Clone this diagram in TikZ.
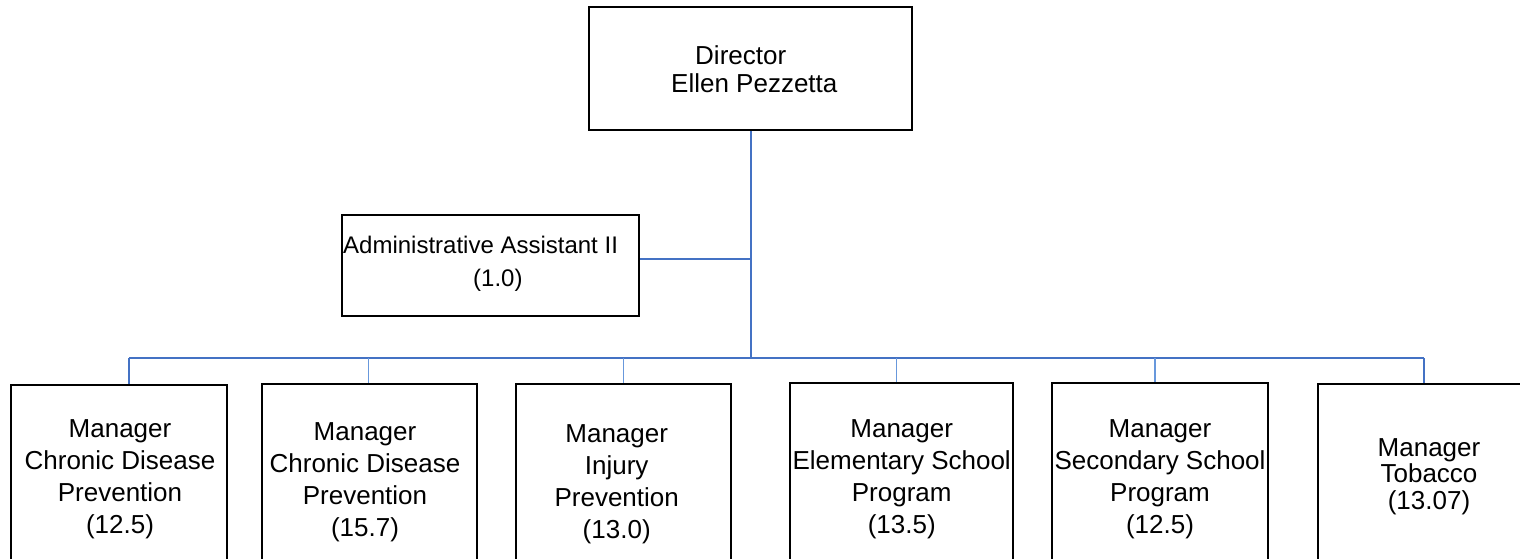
\documentclass[tikz,border=0pt]{standalone}
\usepackage{fontspec}
\setmainfont{Liberation Sans}
\definecolor{mainblue}{RGB}{68,114,196}
\definecolor{dropblue}{RGB}{104,152,220}
\tikzset{
  box/.style={draw=black, line width=1.8pt, rectangle, inner sep=0pt},
  lbl/.style={inner sep=0pt, anchor=north, align=center, font=\fontsize{26}{32}\selectfont},
  trunk/.style={draw=mainblue, line width=2pt},
  drop/.style={draw=dropblue, line width=1.5pt},
}
\newcommand{\st}{\rule{0pt}{20pt}}
\begin{document}
\begin{tikzpicture}[x=1pt,y=-1pt]
\useasboundingbox (0,0) rectangle (1520,559);
\clip (0,0) rectangle (1520,559);
\fill[white] (0,0) rectangle (1520,559);
% director
\node[box, minimum width=323pt, minimum height=123pt] (dir) at (750.5,68.5) {};
\node[inner sep=0pt, anchor=north west, align=left, font=\fontsize{26}{28.7}\selectfont] (dirt) at (671,44) {\st\hspace*{24pt}Director\\Ellen Pezzetta};
% admin
\node[box, minimum width=297.6pt, minimum height=100.7pt] (adm) at (490.5,265.3) {};
\node[inner sep=0pt, anchor=north west, align=left, font=\fontsize{24}{33}\selectfont] (admt) at (343,235) {\rule{0pt}{18pt}Administrative Assistant II\\\hspace*{130pt}(1.0)};
% managers
\node[box, minimum width=216pt, minimum height=185pt] (m1) at (119,477.5) {};
\node[box, minimum width=214.4pt, minimum height=186pt] (m2) at (369.5,477) {};
\node[box, minimum width=214.7pt, minimum height=186pt] (m3) at (623.3,477) {};
\node[box, minimum width=223.3pt, minimum height=186.7pt] (m4) at (901.7,476.7) {};
\node[box, minimum width=215.4pt, minimum height=186.7pt] (m5) at (1160,476.7) {};
\node[box, minimum width=226pt, minimum height=185.7pt] (m6) at (1431,477.2) {};
\node[lbl] (t1) at (120,417.3) {\st Manager\\Chronic Disease\\Prevention\\(12.5)};
\node[lbl] (t2) at (365,420) {\st Manager\\Chronic Disease\\Prevention\\(15.7)};
\node[lbl] (t3) at (616.7,422.7) {\st Manager\\Injury\\Prevention\\(13.0)};
\node[lbl] (t4) at (901.7,417.7) {\st Manager\\Elementary School\\Program\\(13.5)};
\node[lbl] (t5) at (1160,417.3) {\st Manager\\Secondary School\\Program\\(12.5)};
\node[lbl, font=\fontsize{26}{26.7}\selectfont] (t6) at (1429,436) {\st Manager\\Tobacco\\(13.07)};
% connectors
\coordinate (hub) at (750.5,358);
\coordinate (admj) at (750.5,259.3);
\coordinate (d1) at (129.3,358);
\coordinate (d2) at (368.7,358);
\coordinate (d3) at (623.3,358);
\coordinate (d4) at (896.7,358);
\coordinate (d5) at (1155,358);
\coordinate (d6) at (1424.3,358);
\draw[trunk] (dir.south -| hub) -- (hub);
\draw[trunk] (adm.east |- admj) -- (admj);
\draw[trunk] (d1) -- (d6);
\draw[trunk] (d1) -- (d1 |- m1.north);
\draw[drop] (d2) -- (d2 |- m2.north);
\draw[drop] (d3) -- (d3 |- m3.north);
\draw[drop] (d4) -- (d4 |- m4.north);
\draw[drop] (d5) -- (d5 |- m5.north);
\draw[trunk] (d6) -- (d6 |- m6.north);
\end{tikzpicture}
\end{document}
